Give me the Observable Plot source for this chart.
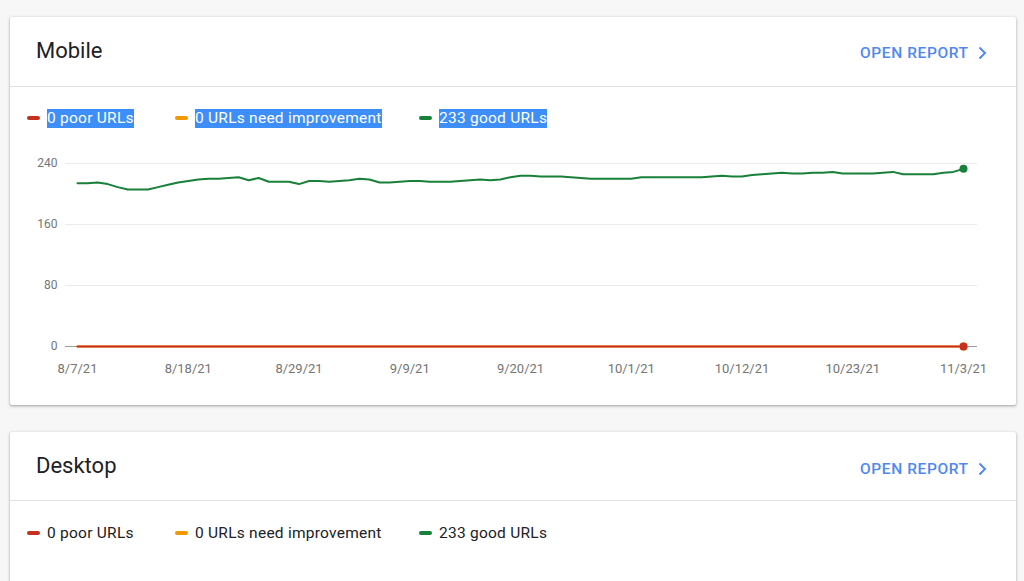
<!DOCTYPE html>
<html>
<head>
<meta charset="utf-8">
<script src="https://cdn.jsdelivr.net/npm/d3@7"></script>
<script src="https://cdn.jsdelivr.net/npm/@observablehq/plot@0.6"></script>
<style>
  html, body { margin: 0; padding: 0; }
  body { background: #f7f7f7; font-family: Roboto, "Noto Sans", sans-serif; width: 1024px; height: 581px; overflow: hidden; position: relative; }
  .card { position: absolute; left: 10px; width: 1006px; background: #fff; border-radius: 2px;
          box-shadow: 0 1px 2px rgba(60,64,67,.30), 0 1px 3px 1px rgba(60,64,67,.15); }
  .title { position: absolute; left: 26px; top: 20px; font-size: 22px; line-height: 26px; color: #202124; }
  .open { position: absolute; left: 850px; top: 27px; font-size: 15.5px; line-height: 18px; font-weight: 500; color: #4f88f0; letter-spacing: 0.6px; white-space: nowrap; }
  .chev { position: absolute; left: 967px; top: 29px; }
  .divider { position: absolute; left: 0; right: 0; height: 1px; background: #e0e0e0; }
  .dash { position: absolute; width: 13px; height: 4px; border-radius: 2px; }
  .ltext { position: absolute; font-size: 15.5px; line-height: 19px; color: #202124; white-space: nowrap; letter-spacing: 0.25px; }
  .sel { background: #3d8ef8; color: #fff; }
  .chart { position: absolute; left: 0; }
</style>
</head>
<body>
<div class="card" id="mobile" style="top:17px;height:388px;"></div>
<div class="card" id="desktop" style="top:432px;height:200px;"></div>
<script>
// ---------------- data ----------------
const cardTitles = ["Mobile", "Desktop"];
const seriesNames = ["poor", "needs improvement", "good"];
const legendLabels = ["0 poor URLs", "0 URLs need improvement", "233 good URLs"];
const seriesColors = ["#c5301f", "#f29900", "#188038"];
const startDate = "2021-08-07";
const goodUrls = [
  214, 214, 215, 213, 209, 206, 206, 206, 209, 212,
  215, 217, 219, 220, 220, 221, 222, 218, 221, 216,
  216, 216, 213, 217, 217, 216, 217, 218, 220, 219,
  215, 215, 216, 217, 217, 216, 216, 216, 217, 218,
  219, 218, 219, 222, 224, 224, 223, 223, 223, 222,
  221, 220, 220, 220, 220, 220, 222, 222, 222, 222,
  222, 222, 222, 223, 224, 223, 223, 225, 226, 227,
  228, 227, 227, 228, 228, 229, 227, 227, 227, 227,
  228, 229, 226, 226, 226, 226, 228, 229, 233
];
const poorUrls = [
  0, 0, 0, 0, 0, 0, 0, 0, 0, 0,
  0, 0, 0, 0, 0, 0, 0, 0, 0, 0,
  0, 0, 0, 0, 0, 0, 0, 0, 0, 0,
  0, 0, 0, 0, 0, 0, 0, 0, 0, 0,
  0, 0, 0, 0, 0, 0, 0, 0, 0, 0,
  0, 0, 0, 0, 0, 0, 0, 0, 0, 0,
  0, 0, 0, 0, 0, 0, 0, 0, 0, 0,
  0, 0, 0, 0, 0, 0, 0, 0, 0, 0,
  0, 0, 0, 0, 0, 0, 0, 0, 0
];
const needsImprovementUrls = [
  0, 0, 0, 0, 0, 0, 0, 0, 0, 0,
  0, 0, 0, 0, 0, 0, 0, 0, 0, 0,
  0, 0, 0, 0, 0, 0, 0, 0, 0, 0,
  0, 0, 0, 0, 0, 0, 0, 0, 0, 0,
  0, 0, 0, 0, 0, 0, 0, 0, 0, 0,
  0, 0, 0, 0, 0, 0, 0, 0, 0, 0,
  0, 0, 0, 0, 0, 0, 0, 0, 0, 0,
  0, 0, 0, 0, 0, 0, 0, 0, 0, 0,
  0, 0, 0, 0, 0, 0, 0, 0, 0
];
const xTickDates = ["2021-08-07", "2021-08-18", "2021-08-29", "2021-09-09", "2021-09-20", "2021-10-01", "2021-10-12", "2021-10-23", "2021-11-03"];
const xTickLabels = ["8/7/21", "8/18/21", "8/29/21", "9/9/21", "9/20/21", "10/1/21", "10/12/21", "10/23/21", "11/3/21"];
const yTicks = [0, 80, 160, 240];

// ---------------- helpers ----------------
const start = new Date(startDate + "T00:00:00Z");
const dates = goodUrls.map((_, i) => d3.utcDay.offset(start, i));
const valuesBySeries = [poorUrls, needsImprovementUrls, goodUrls];
const drawOrder = [2, 1, 0]; // good, needs improvement, poor (poor on top)
const rows = [];
for (const s of drawOrder) {
  valuesBySeries[s].forEach((v, i) => rows.push({date: dates[i], value: v, series: seriesNames[s]}));
}
const lastRows = drawOrder.map(s => ({date: dates[dates.length - 1], value: valuesBySeries[s][dates.length - 1], series: seriesNames[s]}));

function buildHeader(card, title, offsets) {
  const t = document.createElement("div");
  t.className = "title"; t.textContent = title; t.style.top = offsets.title + "px";
  card.appendChild(t);
  const o = document.createElement("div");
  o.className = "open"; o.textContent = "OPEN REPORT"; o.style.top = offsets.open + "px";
  card.appendChild(o);
  const c = document.createElementNS("http://www.w3.org/2000/svg", "svg");
  c.setAttribute("class", "chev"); c.setAttribute("width", "10"); c.setAttribute("height", "14");
  c.style.top = (offsets.open + 2) + "px";
  c.innerHTML = '<path d="M2.5 1.5 L8 7 L2.5 12.5" fill="none" stroke="#4f88f0" stroke-width="2"/>';
  card.appendChild(c);
  const d = document.createElement("div");
  d.className = "divider"; d.style.top = offsets.divider + "px";
  card.appendChild(d);
}

function buildLegend(card, top, selected) {
  const dashX = [17, 165, 409];
  const textX = [37, 185, 429];
  legendLabels.forEach((lab, i) => {
    const dash = document.createElement("div");
    dash.className = "dash";
    dash.style.left = dashX[i] + "px"; dash.style.top = (top + 7) + "px";
    dash.style.background = seriesColors[i];
    card.appendChild(dash);
    const tx = document.createElement("div");
    tx.className = "ltext" + (selected ? " sel" : "");
    tx.style.left = textX[i] + "px"; tx.style.top = top + "px";
    tx.textContent = lab;
    card.appendChild(tx);
  });
}

const colorScale = {domain: seriesNames, range: seriesColors};

function buildChart() {
  return Plot.plot({
    width: 1006,
    height: 235,
    marginLeft: 55,
    marginRight: 39,
    marginTop: 13,
    marginBottom: 39,
    style: {fontFamily: "Roboto, sans-serif", color: "#757575", background: "transparent", overflow: "visible"},
    x: {type: "utc", domain: [dates[0], dates[dates.length - 1]], insetLeft: 12, insetRight: 14},
    y: {domain: [0, 240]},
    color: colorScale,
    marks: [
      Plot.ruleY(yTicks.filter(d => d !== 0), {stroke: "#ebebeb", strokeWidth: 1}),
      Plot.ruleY([0], {stroke: "#9e9e9e", strokeWidth: 1}),
      Plot.axisY({ticks: yTicks, tickSize: 0, tickPadding: 8, fontSize: 12, label: null}),
      Plot.axisX({ticks: xTickDates.map(d => new Date(d + "T00:00:00Z")), tickSize: 0, tickPadding: 17, fontSize: 13,
                  tickFormat: (d, i) => xTickLabels[i], label: null}),
      Plot.line(rows, {x: "date", y: "value", z: "series", stroke: "series", strokeWidth: 2, curve: "linear"}),
      Plot.dot(lastRows, {x: "date", y: "value", fill: "series", r: 4})
    ]
  });
}

const mobile = document.getElementById("mobile");
buildHeader(mobile, cardTitles[0], {title: 21, open: 27, divider: 69});
buildLegend(mobile, 92, true);
const chart = buildChart();
chart.classList.add("chart");
chart.style.top = "133px";
mobile.appendChild(chart);

const desktop = document.getElementById("desktop");
buildHeader(desktop, cardTitles[1], {title: 21, open: 28, divider: 68});
buildLegend(desktop, 92, false);
</script>
</body>
</html>
